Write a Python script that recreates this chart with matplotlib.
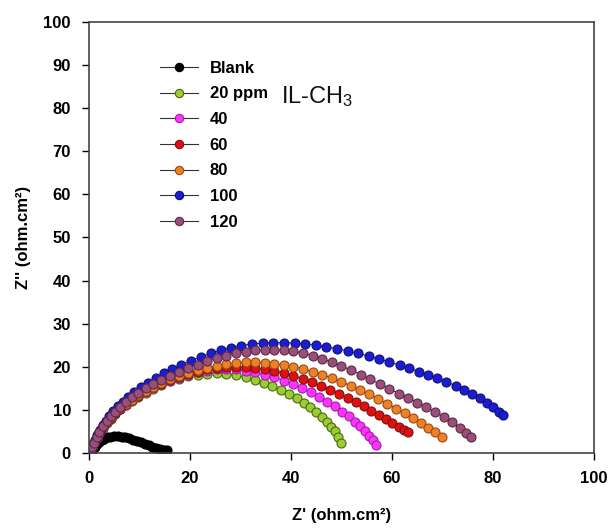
import numpy as np
import matplotlib.pyplot as plt

plt.rcParams['font.family'] = ['Liberation Sans', 'DejaVu Sans']
plt.rcParams['mathtext.fontset'] = 'custom'
plt.rcParams['mathtext.rm'] = 'Liberation Sans'
plt.rcParams['mathtext.default'] = 'regular'

# Nyquist data, Z' and Z'' in ohm.cm2
blank_x = [0.2, 0.5, 0.8, 1.1, 1.5, 2.0, 2.5, 3.0, 3.5, 4.2, 5.0, 5.8, 6.5, 7.2, 8.0, 8.8, 9.5, 10.3, 11.0, 11.8, 12.5, 13.3, 14.0, 14.8, 15.5]
blank_y = [0.2, 0.6, 1.0, 1.5, 2.0, 2.6, 3.0, 3.3, 3.6, 3.8, 3.9, 3.9, 3.8, 3.6, 3.4, 3.1, 2.8, 2.5, 2.2, 1.8, 1.5, 1.2, 1.0, 0.8, 0.7]

ppm20_x = [0.2, 0.6, 1.0, 1.5, 2.0, 2.7, 3.5, 4.3, 5.2, 6.2, 7.3, 8.5, 9.8, 11.2, 12.7, 14.3, 16.0, 17.8, 19.6, 21.5, 23.4, 25.3, 27.2, 29.1, 31.0, 32.8, 34.6, 36.3, 38.0, 39.6, 41.1, 42.5, 43.8, 45.0, 46.1, 47.1, 48.0, 48.8, 49.4, 49.9]
ppm20_y = [0.3, 1.3, 2.3, 3.5, 4.6, 5.8, 7.0, 8.0, 9.1, 10.1, 11.1, 12.1, 13.1, 14.0, 14.9, 15.8, 16.6, 17.2, 17.8, 18.2, 18.4, 18.5, 18.4, 18.1, 17.6, 17.0, 16.3, 15.5, 14.6, 13.7, 12.7, 11.7, 10.6, 9.5, 8.4, 7.3, 6.1, 5.0, 3.7, 2.3]

ppm40_x = [0.2, 0.6, 1.0, 1.5, 2.0, 2.7, 3.5, 4.3, 5.2, 6.2, 7.3, 8.5, 9.8, 11.2, 12.7, 14.3, 16.0, 17.8, 19.6, 21.5, 23.4, 25.3, 27.2, 29.1, 31.0, 32.9, 34.8, 36.7, 38.6, 40.4, 42.2, 43.9, 45.6, 47.2, 48.7, 50.1, 51.4, 52.6, 53.7, 54.7, 55.5, 56.2, 56.8]
ppm40_y = [0.3, 1.3, 2.3, 3.5, 4.7, 5.9, 7.1, 8.1, 9.2, 10.2, 11.2, 12.2, 13.2, 14.2, 15.1, 16.0, 16.8, 17.5, 18.1, 18.7, 19.1, 19.4, 19.5, 19.4, 19.1, 18.7, 18.2, 17.6, 16.8, 16.0, 15.1, 14.1, 13.0, 11.9, 10.8, 9.6, 8.5, 7.3, 6.2, 5.1, 4.0, 2.9, 1.8]

ppm60_x = [0.2, 0.6, 1.0, 1.5, 2.0, 2.7, 3.5, 4.3, 5.2, 6.2, 7.3, 8.5, 9.8, 11.2, 12.7, 14.3, 16.0, 17.8, 19.6, 21.5, 23.4, 25.3, 27.2, 29.1, 31.0, 32.9, 34.8, 36.7, 38.6, 40.5, 42.4, 44.2, 46.0, 47.8, 49.5, 51.2, 52.8, 54.4, 55.9, 57.4, 58.8, 60.1, 61.3, 62.4, 63.2]
ppm60_y = [0.3, 1.3, 2.4, 3.5, 4.8, 6.0, 7.2, 8.2, 9.3, 10.3, 11.3, 12.3, 13.3, 14.3, 15.2, 16.1, 16.9, 17.7, 18.4, 18.9, 19.4, 19.7, 19.9, 20.0, 19.9, 19.7, 19.4, 19.0, 18.5, 17.9, 17.2, 16.4, 15.6, 14.7, 13.8, 12.8, 11.8, 10.8, 9.8, 8.8, 7.8, 6.9, 6.0, 5.3, 4.8]

ppm80_x = [0.2, 0.6, 1.0, 1.5, 2.0, 2.7, 3.5, 4.3, 5.2, 6.2, 7.3, 8.5, 9.8, 11.2, 12.7, 14.3, 16.0, 17.8, 19.6, 21.5, 23.4, 25.3, 27.2, 29.1, 31.0, 32.9, 34.8, 36.7, 38.6, 40.5, 42.4, 44.3, 46.2, 48.1, 50.0, 51.9, 53.7, 55.5, 57.3, 59.1, 60.8, 62.5, 64.1, 65.7, 67.2, 68.6, 69.9]
ppm80_y = [0.3, 1.3, 2.4, 3.6, 4.9, 6.1, 7.3, 8.3, 9.4, 10.4, 11.4, 12.4, 13.4, 14.4, 15.3, 16.2, 17.1, 17.9, 18.6, 19.3, 19.8, 20.2, 20.6, 20.8, 21.0, 21.0, 20.9, 20.7, 20.4, 20.0, 19.5, 18.9, 18.2, 17.4, 16.5, 15.6, 14.6, 13.6, 12.5, 11.4, 10.3, 9.2, 8.1, 7.0, 5.9, 4.8, 3.7]

ppm100_x = [0.2, 0.5, 0.8, 1.2, 1.6, 2.1, 2.7, 3.3, 4.0, 4.8, 5.7, 6.7, 7.8, 9.0, 10.3, 11.7, 13.2, 14.8, 16.5, 18.3, 20.2, 22.1, 24.1, 26.1, 28.1, 30.2, 32.3, 34.4, 36.5, 38.6, 40.7, 42.8, 44.9, 47.0, 49.1, 51.2, 53.3, 55.4, 57.5, 59.5, 61.5, 63.4, 65.3, 67.2, 69.0, 70.8, 72.6, 74.3, 75.9, 77.4, 78.8, 80.1, 81.2, 82.0]
ppm100_y = [0.3, 1.2, 2.1, 3.1, 4.2, 5.3, 6.4, 7.5, 8.6, 9.7, 10.8, 11.9, 13.0, 14.1, 15.2, 16.3, 17.4, 18.5, 19.5, 20.5, 21.4, 22.3, 23.1, 23.8, 24.4, 24.9, 25.3, 25.5, 25.6, 25.6, 25.5, 25.3, 25.0, 24.6, 24.2, 23.7, 23.1, 22.5, 21.8, 21.1, 20.4, 19.7, 18.9, 18.1, 17.3, 16.5, 15.6, 14.7, 13.7, 12.7, 11.7, 10.7, 9.6, 8.7]

ppm120_x = [0.2, 0.6, 1.0, 1.5, 2.0, 2.7, 3.5, 4.3, 5.2, 6.2, 7.3, 8.5, 9.8, 11.2, 12.7, 14.3, 16.0, 17.8, 19.6, 21.5, 23.4, 25.3, 27.2, 29.1, 31.0, 32.9, 34.8, 36.7, 38.6, 40.5, 42.4, 44.3, 46.2, 48.1, 50.0, 51.9, 53.8, 55.7, 57.6, 59.5, 61.4, 63.2, 65.0, 66.8, 68.6, 70.3, 71.9, 73.4, 74.7, 75.7]
ppm120_y = [0.3, 1.3, 2.4, 3.6, 4.9, 6.2, 7.4, 8.5, 9.6, 10.7, 11.8, 12.9, 14.0, 15.0, 16.0, 16.9, 17.9, 18.8, 19.7, 20.5, 21.3, 22.0, 22.6, 23.1, 23.5, 23.8, 24.0, 24.0, 23.9, 23.6, 23.2, 22.6, 21.9, 21.1, 20.2, 19.2, 18.2, 17.1, 16.0, 14.9, 13.8, 12.8, 11.7, 10.6, 9.5, 8.3, 7.1, 5.9, 4.7, 3.6]

labels = ['Blank', '20 ppm', '40', '60', '80', '100', '120']
faces = ['#000000', '#9acd32', '#ff33ff', '#e01010', '#f08028', '#1c1cd0', '#9a4e7a']
edges = ['#000000', '#4a6a10', '#a020a0', '#801010', '#9a4a10', '#10107a', '#5a2a44']
xs = [blank_x, ppm20_x, ppm40_x, ppm60_x, ppm80_x, ppm100_x, ppm120_x]
ys = [blank_y, ppm20_y, ppm40_y, ppm60_y, ppm80_y, ppm100_y, ppm120_y]

fig = plt.figure(figsize=(6.11, 5.3), dpi=100)
ax = fig.add_axes([0.1457, 0.1453, 0.8263, 0.8132])

for x, y, lab, fc, ec in zip(xs, ys, labels, faces, edges):
    ax.plot(x, y, '-o', color='#333333', lw=0.8, ms=6.5, mfc=fc, mec=ec, mew=0.8, label=lab)

ax.set_xlim(0, 100)
ax.set_ylim(0, 100)
ax.set_xticks(np.arange(0, 101, 20))
ax.set_yticks(np.arange(0, 101, 10))
ax.tick_params(direction='out', length=5, width=1, labelsize=12, pad=8, top=False, right=False)
for t in ax.get_xticklabels() + ax.get_yticklabels():
    t.set_fontweight('bold')
for s in ax.spines.values():
    s.set_color('#444444')
    s.set_linewidth(1.2)

ax.set_xlabel("Z' (ohm.cm\u00b2)", fontsize=12, fontweight='bold', labelpad=16)
ax.set_ylabel("Z'' (ohm.cm\u00b2)", fontsize=12, fontweight='bold', labelpad=9)

leg = ax.legend(loc='upper left', bbox_to_anchor=(0.14, 0.91), frameon=False,
                prop={'size': 12, 'weight': 'bold'}, handlelength=2.3,
                handletextpad=0.7, labelspacing=0.64, borderpad=0, borderaxespad=0)
for h in leg.legend_handles:
    h.set_markersize(6)

ax.text(0.38, 0.826, 'IL-CH$_3$', transform=ax.transAxes, fontsize=17,
        va='center', color='#111111')

fig.savefig('out.png', dpi=100)
